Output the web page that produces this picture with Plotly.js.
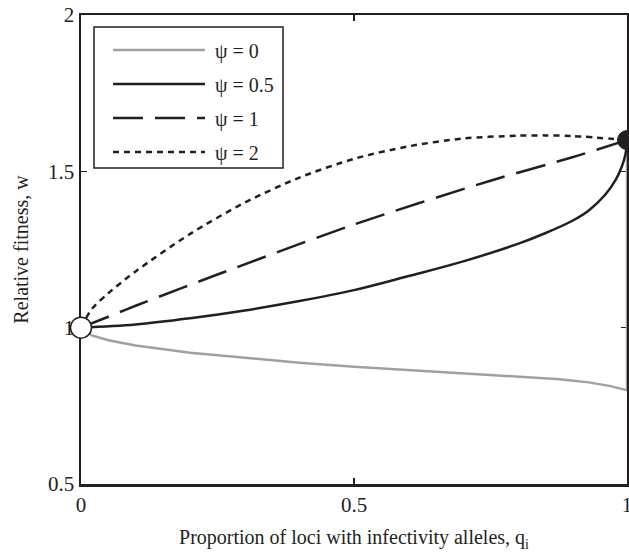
<!DOCTYPE html>
<html>
<head>
<meta charset="utf-8">
<script src="https://cdn.plot.ly/plotly-3.0.1.min.js"></script>
<style>html,body{margin:0;padding:0;background:#fff;}#chart{width:629px;height:552px;}</style>
</head>
<body>
<div id="chart"></div>
<script>
// Proportion of loci with infectivity alleles, q_i  ->  relative fitness, w
const qPsi0   = [0, 0.02, 0.05, 0.1, 0.2, 0.3, 0.4, 0.5, 0.6, 0.7, 0.8, 0.877, 0.93, 0.97, 1.0, 1.0];
const wPsi0   = [1.0, 0.975, 0.96, 0.943, 0.92, 0.903, 0.888, 0.875, 0.865, 0.855, 0.845, 0.835, 0.825, 0.813, 0.80, 1.6];

const qPsi05  = [0, 0.1, 0.2, 0.3, 0.4, 0.5, 0.6, 0.7, 0.8, 0.85, 0.9, 0.93, 0.96, 0.98, 0.99, 0.997, 1.0];
const wPsi05  = [1.0, 1.01, 1.03, 1.055, 1.085, 1.12, 1.165, 1.212, 1.268, 1.302, 1.342, 1.375, 1.425, 1.475, 1.513, 1.553, 1.6];

const qPsi1   = [0, 0.05, 0.1, 0.25, 0.5, 0.75, 0.9, 1.0];
const wPsi1   = [1.0, 1.035, 1.07, 1.17, 1.33, 1.47, 1.545, 1.6];

const qPsi2   = [0, 0.02, 0.05, 0.1, 0.2, 0.3, 0.4, 0.5, 0.6, 0.7, 0.8, 0.85, 0.9, 1.0];
const wPsi2   = [1.0, 1.06, 1.11, 1.18, 1.30, 1.40, 1.48, 1.54, 1.58, 1.605, 1.614, 1.615, 1.613, 1.6];

const openPt   = {q: [0], w: [1.0]};
const filledPt = {q: [1], w: [1.6]};

const seriesNames = ['ψ = 0', 'ψ = 0.5', 'ψ = 1', 'ψ = 2'];
const xTicks = [0, 0.5, 1];
const xTickText = ['0', '0.5', '1'];
const yTicks = [0.5, 1, 1.5, 2];
const yTickText = ['0.5', '1', '1.5', '2'];

const DARK = '#231f20';
const GRAY = '#a0a0a0';
const legName = n => '\u00A0' + n;

const traces = [
  {x: qPsi0, y: wPsi0, name: legName(seriesNames[0]), legendgroup: 'g0', mode: 'lines',
   line: {color: GRAY, width: 2.5, shape: 'linear'}},
  {x: qPsi05, y: wPsi05, name: legName(seriesNames[1]), legendgroup: 'g1', mode: 'lines',
   line: {color: DARK, width: 2.5, shape: 'spline', smoothing: 1}},
  {x: qPsi1, y: wPsi1, name: legName(seriesNames[2]), legendgroup: 'g2', mode: 'lines',
   line: {color: DARK, width: 2.5, dash: '30px,12px', shape: 'spline', smoothing: 0.8}},
  {x: qPsi2, y: wPsi2, name: legName(seriesNames[3]), legendgroup: 'g3', mode: 'lines',
   line: {color: DARK, width: 2.5, dash: '6px,5px', shape: 'spline', smoothing: 0.8}},
  {x: openPt.q, y: openPt.w, mode: 'markers', showlegend: false, cliponaxis: false,
   marker: {size: 21, color: '#ffffff', line: {color: DARK, width: 1.5}}},
  {x: filledPt.q, y: filledPt.w, mode: 'markers', showlegend: false, cliponaxis: false,
   marker: {size: 19, color: DARK, line: {color: DARK, width: 1}}}
];

const fam = '"Liberation Serif", "Times New Roman", serif';
const F = s => ({family: fam, size: s, color: DARK});

const layout = {
  width: 629, height: 552,
  margin: {l: 81, r: 2, t: 15, b: 68},
  paper_bgcolor: '#ffffff', plot_bgcolor: '#ffffff',
  font: F(20),
  showlegend: true,
  legend: {
    x: 0.0495, y: 0.967, xanchor: 'left', yanchor: 'top',
    bgcolor: 'rgba(0,0,0,0)', borderwidth: 0,
    font: F(20), itemwidth: 92, traceorder: 'grouped', tracegroupgap: 5
  },
  shapes: [{
    type: 'rect', xref: 'paper', yref: 'paper', layer: 'above',
    x0: 0.0238, x1: 0.370, y0: 0.6738, y1: 0.9744,
    fillcolor: '#ffffff', line: {color: DARK, width: 1.5}
  }],
  xaxis: {
    range: [0, 1], tickvals: xTicks, ticktext: xTickText,
    showline: true, mirror: 'ticks', linecolor: DARK, linewidth: 2.5,
    ticks: 'inside', ticklen: 6, tickwidth: 1.5, tickcolor: DARK,
    showgrid: false, zeroline: false, layer: 'below traces',
    ticklabeloverflow: 'allow',
    tickfont: F(21),
    title: {text: 'Proportion of loci with infectivity alleles, q<sub>i</sub>', font: F(20), standoff: 15}
  },
  yaxis: {
    range: [0.5, 2], tickvals: yTicks, ticktext: yTickText,
    showline: true, mirror: 'ticks', linecolor: DARK, linewidth: 2.5,
    ticks: 'inside', ticklen: 6, tickwidth: 1.5, tickcolor: DARK,
    showgrid: false, zeroline: false, layer: 'below traces',
    ticklabeloverflow: 'allow',
    tickfont: F(21),
    title: {text: 'Relative fitness, w', font: F(20), standoff: 14}
  }
};

Plotly.newPlot('chart', traces, layout, {displayModeBar: false, staticPlot: true});
</script>
</body>
</html>
